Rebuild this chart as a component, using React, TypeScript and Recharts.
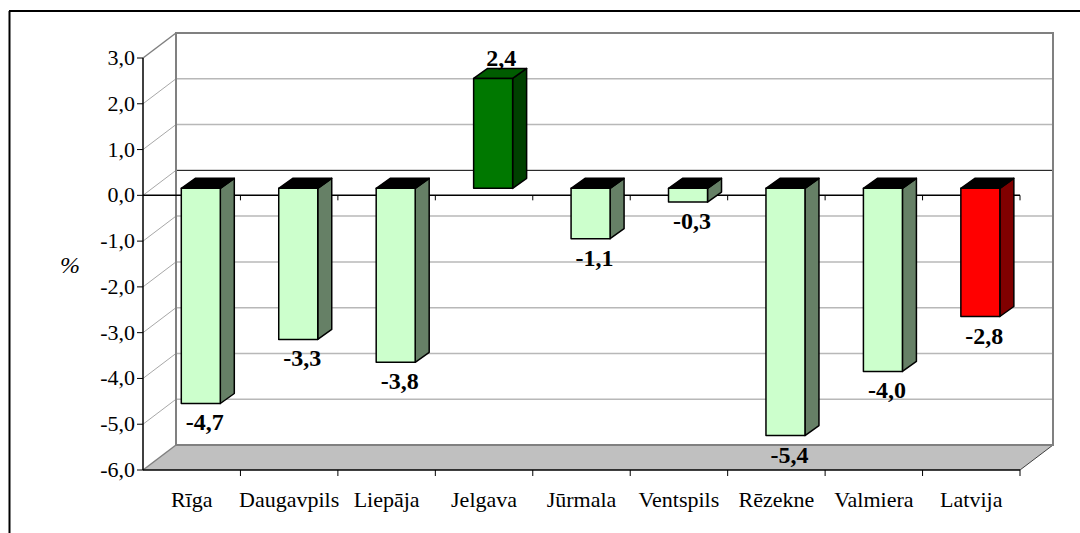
import {
  BarChart,
  Bar,
  XAxis,
  YAxis,
  LabelList,
  Customized,
} from 'recharts'

// values (change in %, by city)
const cities = [
  'Rīga',
  'Daugavpils',
  'Liepāja',
  'Jelgava',
  'Jūrmala',
  'Ventspils',
  'Rēzekne',
  'Valmiera',
  'Latvija',
]
const changes = [-4.7, -3.3, -3.8, 2.4, -1.1, -0.3, -5.4, -4.0, -2.8]
const yTicks = [-6, -5, -4, -3, -2, -1, 0, 1, 2, 3]
const TOTAL = 'Latvija'

const chartData = cities.map((name, i) => ({ name, value: changes[i] }))

const W = 1080
const H = 533
const PLOT = { left: 143, right: 1020, top: 58, bottom: 470 }
const Y_MIN = -6
const Y_MAX = 3

// 3D projection of the walls and bars
const DEPTH_X = 33
const DEPTH_Y = 25
const BAR_SHIFT_X = 9.3
const BAR_SHIFT_Y = 7
const BAR_DEPTH_X = 14
const BAR_DEPTH_Y = 10

const FONT = 'Liberation Serif'
const FONT_SIZE = 22
const LABEL_SIZE = 24

const fmt = (v: number) => v.toFixed(1).replace('.', ',')

const yOf = (v: number) =>
  PLOT.top + ((Y_MAX - v) / (Y_MAX - Y_MIN)) * (PLOT.bottom - PLOT.top)

function barColors(name: string, value: number) {
  if (name === TOTAL) return { front: '#ff0000', side: '#800000', top: '#000000' }
  if (value > 0) return { front: '#007800', side: '#004000', top: '#005c00' }
  return { front: '#ccffcc', side: '#668066', top: '#000000' }
}

function Walls() {
  const { left: L, right: R, top: T, bottom: B } = PLOT
  const band = (R - L) / cities.length
  const bx = L + DEPTH_X
  const zeroY = yOf(0)
  return (
    <g>
      {/* outer frame */}
      <line x1={9} y1={11} x2={W} y2={11} stroke="#000" strokeWidth={2} />
      <line x1={9.5} y1={11} x2={9.5} y2={H} stroke="#000" strokeWidth={2} />

      {/* floor */}
      <polygon
        points={`${L},${B} ${R},${B} ${R + DEPTH_X},${B - DEPTH_Y} ${bx},${B - DEPTH_Y}`}
        fill="#c0c0c0"
      />
      <line x1={R} y1={B} x2={R + DEPTH_X} y2={B - DEPTH_Y} stroke="#404040" strokeWidth={1} />

      {/* back wall gridlines */}
      {yTicks.map((t) => (
        <line
          key={`bg-${t}`}
          x1={bx}
          x2={R + DEPTH_X}
          y1={yOf(t) - DEPTH_Y}
          y2={yOf(t) - DEPTH_Y}
          stroke={t === 0 ? '#000' : '#b8b8b8'}
          strokeWidth={t === 0 ? 1 : 1.5}
        />
      ))}
      {/* side wall diagonals */}
      {yTicks.map((t) => (
        <line
          key={`sd-${t}`}
          x1={L}
          y1={yOf(t)}
          x2={bx}
          y2={yOf(t) - DEPTH_Y}
          stroke={t === Y_MAX || t === Y_MIN ? '#808080' : '#a8a8a8'}
          strokeWidth={t === Y_MAX || t === Y_MIN ? 1.5 : 1}
        />
      ))}
      <rect
        x={bx}
        y={T - DEPTH_Y}
        width={R - L}
        height={B - T}
        fill="none"
        stroke="#808080"
        strokeWidth={2}
      />

      {/* front zero line, behind the bars */}
      <line x1={L} x2={R} y1={zeroY} y2={zeroY} stroke="#000" strokeWidth={1.5} />

      {/* category boundary ticks on the floor edge and the zero line */}
      {cities.map((c, i) => {
        const tx = L + (i + 1) * band
        return (
          <g key={`tk-${c}`} stroke="#000" strokeWidth={1}>
            <line x1={tx} x2={tx} y1={B} y2={B + 6} />
            <line x1={tx} x2={tx} y1={zeroY} y2={zeroY + 5} />
          </g>
        )
      })}

      <text
        x={70}
        y={273}
        textAnchor="middle"
        fontFamily={FONT}
        fontSize={LABEL_SIZE}
        fontStyle="italic"
        fill="#000"
      >
        %
      </text>
    </g>
  )
}

function Box3D(props: any) {
  const { x, y, width, height, payload } = props
  const c = barColors(payload.name, payload.value)
  const top = Math.min(y, y + height) - BAR_SHIFT_Y
  const bot = Math.max(y, y + height) - BAR_SHIFT_Y
  const fx = x + BAR_SHIFT_X
  const r = fx + width
  return (
    <g stroke="#000" strokeWidth={1.5} strokeLinejoin="round">
      <polygon
        points={`${r},${top} ${r + BAR_DEPTH_X},${top - BAR_DEPTH_Y} ${r + BAR_DEPTH_X},${bot - BAR_DEPTH_Y} ${r},${bot}`}
        fill={c.side}
      />
      <polygon
        points={`${fx},${top} ${fx + BAR_DEPTH_X},${top - BAR_DEPTH_Y} ${r + BAR_DEPTH_X},${top - BAR_DEPTH_Y} ${r},${top}`}
        fill={c.top}
      />
      <rect x={fx} y={top} width={width} height={bot - top} fill={c.front} />
    </g>
  )
}

function BarLabel(props: any) {
  const { x, y, width, height, value } = props
  const v = Number(value)
  const top = Math.min(y, y + height) - BAR_SHIFT_Y
  const bot = Math.max(y, y + height) - BAR_SHIFT_Y
  const cx = x + BAR_SHIFT_X + width / 2
  return (
    <text
      x={v >= 0 ? cx + 8 : cx + 4}
      y={v >= 0 ? top - 12 : bot + 27}
      textAnchor="middle"
      fontFamily={FONT}
      fontSize={LABEL_SIZE}
      fontWeight="bold"
      fill="#000"
    >
      {fmt(v)}
    </text>
  )
}

function CategoryTick(props: any) {
  const { x, y, payload } = props
  return (
    <text
      x={x}
      y={y}
      dy={29}
      textAnchor="middle"
      fontFamily={FONT}
      fontSize={FONT_SIZE}
      fill="#000"
    >
      {payload.value}
    </text>
  )
}

function ValueTick(props: any) {
  const { x, y, payload } = props
  return (
    <text
      x={x}
      y={y}
      dy={7}
      textAnchor="end"
      fontFamily={FONT}
      fontSize={FONT_SIZE}
      fill="#000"
    >
      {fmt(payload.value)}
    </text>
  )
}

export default function App() {
  return (
    <div style={{ position: 'absolute', left: 0, top: 0, background: '#fff' }}>
      <BarChart
        width={W}
        height={H}
        data={chartData}
        margin={{
          top: PLOT.top,
          right: W - PLOT.right,
          left: 0,
          bottom: 0,
        }}
      >
        <Customized component={Walls} />
        <XAxis
          dataKey="name"
          height={H - PLOT.bottom}
          interval={0}
          axisLine={{ stroke: '#000', strokeWidth: 1.5 }}
          tickLine={false}
          tick={<CategoryTick />}
        />
        <YAxis
          type="number"
          domain={[Y_MIN, Y_MAX]}
          ticks={yTicks}
          width={PLOT.left}
          interval={0}
          tickSize={6}
          tickMargin={2}
          axisLine={{ stroke: '#000', strokeWidth: 1.5 }}
          tickLine={{ stroke: '#000' }}
          tick={<ValueTick />}
        />
        <Bar
          dataKey="value"
          barSize={39}
          shape={<Box3D />}
          isAnimationActive={false}
        >
          <LabelList dataKey="value" content={<BarLabel />} />
        </Bar>
      </BarChart>
    </div>
  )
}
